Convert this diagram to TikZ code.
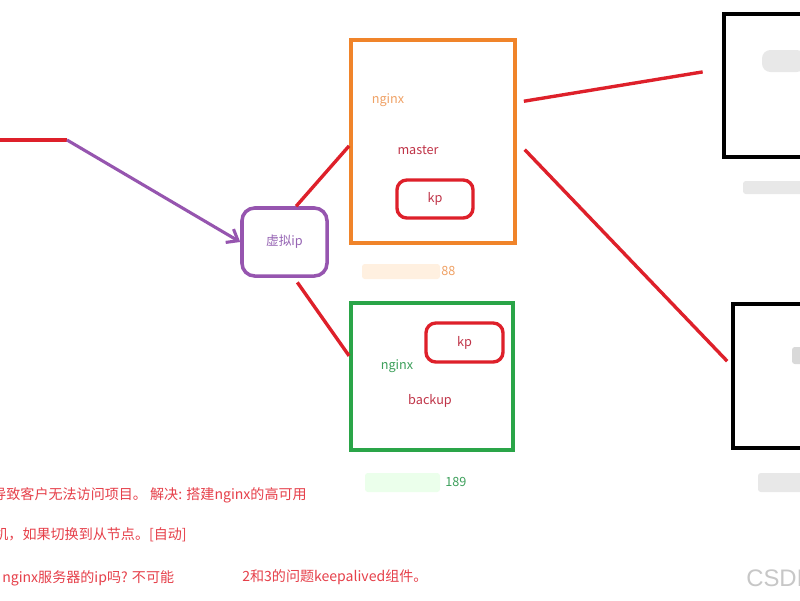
\documentclass[tikz,border=0pt]{standalone}
\usepackage{fontspec}
\setmainfont{Noto Sans CJK SC}
\newfontfamily\wmfont{Liberation Sans}
\usetikzlibrary{arrows.meta}

\definecolor{linered}{RGB}{222,32,42}
\definecolor{boxorange}{RGB}{240,132,42}
\definecolor{boxgreen}{RGB}{42,165,72}
\definecolor{boxpurple}{RGB}{150,85,175}
\definecolor{notered}{RGB}{230,64,74}
\definecolor{txtorange}{RGB}{240,162,102}
\definecolor{txtgreen}{RGB}{62,160,92}
\definecolor{txtrole}{RGB}{192,52,72}
\definecolor{txtpurple}{RGB}{150,100,180}

\begin{document}
\begin{tikzpicture}
            [x=0.025cm,y=-0.025cm,
             redline/.style={line width=2.4pt,linered},
             purpleline/.style={line width=2.2pt,boxpurple},
             hostbox/.style={draw,line width=2.7pt,inner sep=0pt},
             kpbox/.style={draw=linered,line width=2.4pt,rounded corners=7pt,inner sep=0pt,
                           minimum width=1.9cm,minimum height=0.95cm,font=\small,text=txtrole},
             label/.style={inner sep=0pt,font=\small},
             note/.style={inner sep=0pt,font=\fontsize{10}{12}\selectfont,text=notered},
             blur/.style={draw=none,rounded corners=2pt}]
            \useasboundingbox (0,0) rectangle (800,600);
            \fill[white] (0,0) rectangle (800,600);

            % virtual ip
            \node[hostbox,draw=boxpurple,line width=2.5pt,rounded corners=9pt,
                  minimum width=2.125cm,minimum height=1.7cm,font=\small,text=txtpurple]
                  (vip) at (284.5,242) {虚拟ip};

            % nginx master
            \node[hostbox,draw=boxorange,minimum width=4.1cm,minimum height=5.075cm] (master) at (433,141.5) {};
            \node[label,text=txtorange] (mname) at (388,100) {nginx};
            \node[label,text=txtrole] (mrole) at (418,150) {master};
            \node[kpbox] (mkp) at (435,199) {kp};
            \fill[blur,fill=orange!12] (362,264) rectangle (440,279);
            \node[label,text=txtorange,anchor=west] (mip) at (441,271) {88};

            % nginx backup
            \node[hostbox,draw=boxgreen,minimum width=4.05cm,minimum height=3.675cm] (backup) at (432,376.5) {};
            \node[label,text=txtgreen] (bname) at (397,366) {nginx};
            \node[label,text=txtrole] (brole) at (430,401) {backup};
            \node[kpbox,minimum width=1.925cm,minimum height=0.975cm] (bkp) at (464.5,342.5) {kp};
            \fill[blur,fill=green!8] (365,473) rectangle (440,492);
            \node[label,text=txtgreen,anchor=west] (bip) at (445,482) {189};

            % servers
            \node[hostbox,draw=black,minimum width=2.65cm,minimum height=3.575cm] (srv1) at (777,85.5) {};
            \fill[blur,fill=black!9,rounded corners=6pt] (762,50) rectangle (805,72);
            \fill[blur,fill=black!9] (743,181) rectangle (805,194);
            \node[hostbox,draw=black,minimum width=2.675cm,minimum height=3.6cm] (srv2) at (786.5,376) {};
            \fill[blur,fill=black!15] (792,347) rectangle (805,364);
            \fill[blur,fill=black!9] (758,473) rectangle (805,492);

            % client side
            \coordinate (client) at (-5,140);
            \coordinate (bend) at (67,140);
            \draw[redline] (client) -- (bend);
            \draw[purpleline,-{Straight Barb[length=7pt,width=11pt]}] (bend) -- (vip.west);

            % links
            \draw[redline] (vip.72) -- (master.183);
            \draw[redline,shorten <=4pt] (vip.-75) -- (backup.166);
            \draw[redline,shorten <=5pt,shorten >=14pt] (master.25) -- (srv1.163);
            \draw[redline,shorten <=8pt,shorten >=4pt] (master.0) -- (srv2.169);

            % notes
            \node[note,anchor=east] (n1) at (307,495) {导致客户无法访问项目。 解决: 搭建nginx的高可用};
            \node[note,anchor=east] (n2) at (187,535) {宕机，如果切换到从节点。[自动]};
            \node[note,anchor=west] (n3) at (2,578) {nginx服务器的ip吗? 不可能};
            \node[note,anchor=west] (n4) at (242,577) {2和3的问题keepalived组件。};
            \node[inner sep=0pt,anchor=west,font=\wmfont\fontsize{17}{17}\selectfont,text=black!22] (wm) at (746,578) {CSDN};
        \end{tikzpicture}
\end{document}
